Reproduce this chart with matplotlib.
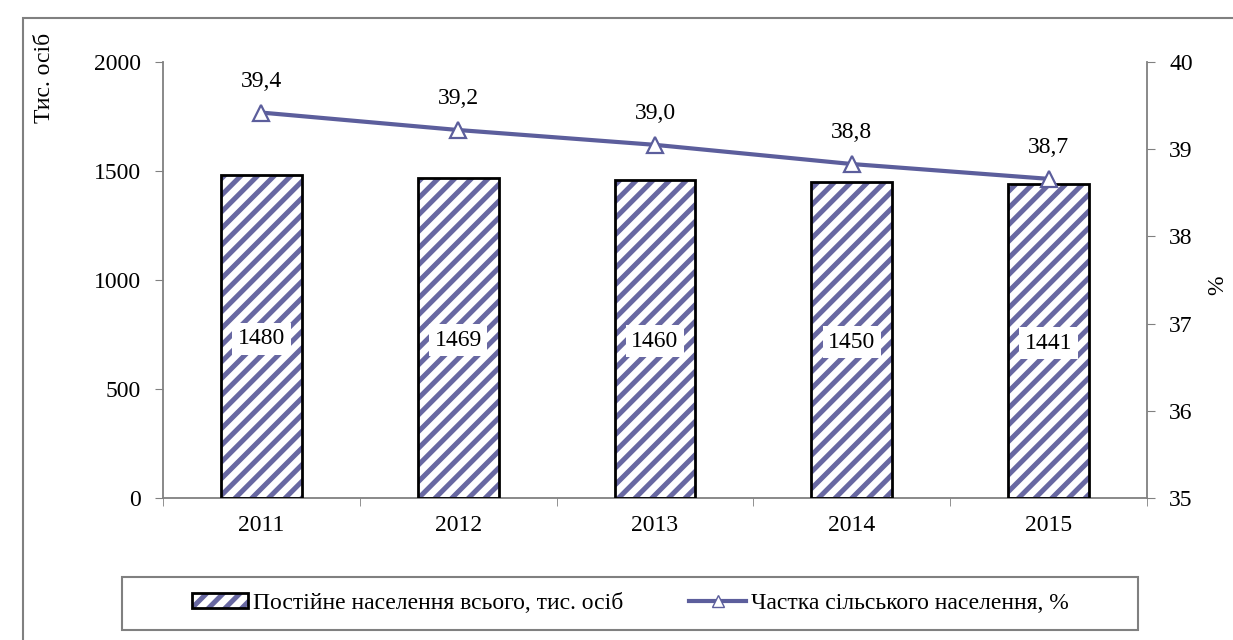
import matplotlib
matplotlib.use("Agg")
import matplotlib.pyplot as plt
from matplotlib.patches import Rectangle
from matplotlib.lines import Line2D
from matplotlib.legend_handler import HandlerTuple
import numpy as np

plt.rcParams['font.family'] = ['Liberation Serif', 'DejaVu Serif']
plt.rcParams['hatch.linewidth'] = 3.6

years = ['2011', '2012', '2013', '2014', '2015']
population = [1480, 1469, 1460, 1450, 1441]
rural_share = [39.42, 39.22, 39.05, 38.83, 38.66]
rural_labels = ['39,4', '39,2', '39,0', '38,8', '38,7']

line_color = '#5c5e9c'
hatch_color = '#6868a2'
axis_color = '#808080'
fs = 17

fig = plt.figure(figsize=(12.33, 6.4), dpi=100)
ax = fig.add_axes([163/1233, 1-498/640, (1147-163)/1233, (498-62)/640])
x = np.arange(len(years))

# hatched fill, then black outline on top
ax.bar(x, population, width=0.41, color='white', edgecolor=hatch_color,
       hatch='//', linewidth=0, zorder=2)
ax.bar(x, population, width=0.41, color='none', edgecolor='black',
       linewidth=2, zorder=3)
for xi, v in zip(x, population):
    ax.text(xi, v/2 - 10, str(v), ha='center', va='center', fontsize=fs, zorder=4,
            bbox=dict(facecolor='white', edgecolor='none', pad=4))

ax.set_xlim(-0.5, 4.5)
ax.set_ylim(0, 2000)
ax.set_yticks([0, 500, 1000, 1500, 2000])
ax.set_xticks(x)
ax.set_xticklabels(years)
ax.set_xticks(np.arange(-0.5, 5, 1), minor=True)
ax.tick_params(axis='x', which='major', length=0, pad=12, labelsize=fs)
ax.tick_params(axis='x', which='minor', length=6, color=axis_color, direction='out')
ax.tick_params(axis='y', length=6, color=axis_color, direction='out', labelsize=fs, pad=10)
ax.spines['top'].set_visible(False)
ax.spines['right'].set_visible(False)
for s in ['left', 'bottom']:
    ax.spines[s].set_color(axis_color)
    ax.spines[s].set_linewidth(1.3)

ax2 = ax.twinx()
ax2.plot(x, rural_share, color=line_color, linewidth=3, marker='^', markersize=11,
         markerfacecolor='white', markeredgecolor=line_color, markeredgewidth=1.6, zorder=5)
for xi, v, lab in zip(x, rural_share, rural_labels):
    ax2.annotate(lab, (xi, v), xytext=(0, 15), textcoords='offset points',
                 ha='center', va='bottom', fontsize=fs)
ax2.set_ylim(35, 40)
ax2.set_yticks([35, 36, 37, 38, 39, 40])
ax2.tick_params(axis='y', length=6, color=axis_color, direction='out', labelsize=fs, pad=10)
ax2.spines['top'].set_visible(False)
ax2.spines['left'].set_visible(False)
ax2.spines['bottom'].set_visible(False)
ax2.spines['right'].set_color(axis_color)
ax2.spines['right'].set_linewidth(1.3)

fig.text(45/1233, 1-78/640, 'Тис. осіб', rotation=90, ha='center', va='center', fontsize=fs)
fig.text(1218/1233, 1-285/640, '%', rotation=90, ha='center', va='center', fontsize=fs)

# outer chart border (cut off at right and bottom)
fig.add_artist(Rectangle((23/1233, -0.05), 1.1, 1.05 - 18/640, transform=fig.transFigure,
                         fill=False, edgecolor=axis_color, linewidth=1.5))
# legend box
fig.add_artist(Rectangle((122/1233, 1-630/640), (1138-122)/1233, 53/640, transform=fig.transFigure,
                         fill=False, edgecolor=axis_color, linewidth=1.5))

h_bar = Rectangle((0, 0), 1, 1, facecolor='white', edgecolor=hatch_color, hatch='//', linewidth=0)
h_bar_outline = Rectangle((0, 0), 1, 1, facecolor='none', edgecolor='black', linewidth=2)
h_line = Line2D([], [], color=line_color, linewidth=3, marker='^', markersize=9,
                markerfacecolor='white', markeredgecolor=line_color)
fig.legend([(h_bar, h_bar_outline), h_line],
           ['Постійне населення всього, тис. осіб', 'Частка сільського населення, %'],
           handler_map={tuple: HandlerTuple(ndivide=1, pad=0)},
           loc='center', bbox_to_anchor=(630/1233, 1-603.5/640), ncol=2, frameon=False,
           fontsize=fs, handlelength=2.4, handleheight=0.6, handletextpad=0.2, columnspacing=2.8)

fig.savefig('out.png', dpi=100)
